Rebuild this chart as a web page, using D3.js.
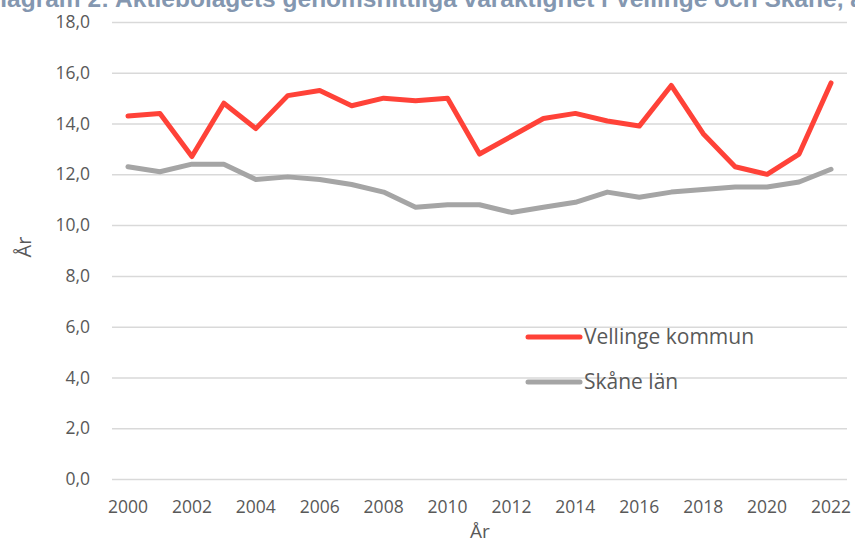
<!DOCTYPE html>
<html>
<head>
<meta charset="utf-8">
<script src="https://cdn.jsdelivr.net/npm/d3@7"></script>
<style>
  body { margin: 0; background: #fff; }
  svg { display: block; }
</style>
</head>
<body>
<div id="chart"></div>
<script>
const years = d3.range(2000, 2023);
const vellinge = [14.3, 14.4, 12.7, 14.8, 13.8, 15.1, 15.3, 14.7, 15.0, 14.9, 15.0, 12.8, 13.5, 14.2, 14.4, 14.1, 13.9, 15.5, 13.6, 12.3, 12.0, 12.8, 15.6];
const skane = [12.3, 12.1, 12.4, 12.4, 11.8, 11.9, 11.8, 11.6, 11.3, 10.7, 10.8, 10.8, 10.5, 10.7, 10.9, 11.3, 11.1, 11.3, 11.4, 11.5, 11.5, 11.7, 12.2];
const yTicks = [0, 2, 4, 6, 8, 10, 12, 14, 16, 18];
const xTickYears = d3.range(2000, 2023, 2);
const seriesNames = ["Vellinge kommun", "Skåne län"];
const seriesColors = ["#ff4238", "#a5a5a5"];
const titleText = "Diagram 2: Aktiebolagets genomsnittliga varaktighet i Vellinge och Skåne, år";

const width = 855, height = 543;
const plotLeft = 112, plotRight = 847, plotTop = 22, plotBottom = 479;
const font = "'Open Sans', sans-serif";

const svg = d3.select('#chart').append('svg')
    .attr('width', width)
    .attr('height', height);

const x = d3.scaleBand().domain(years).range([plotLeft, plotRight]);
const y = d3.scaleLinear().domain([0, 18]).range([plotBottom, plotTop]);
const fmt = d => d3.format('.1f')(d).replace('.', ',');

// title, cut off at the top like the reference
svg.append('text')
    .attr('x', 428)
    .attr('y', 7)
    .attr('text-anchor', 'middle')
    .style('font-family', "'Liberation Sans', Arial, sans-serif")
    .style('font-weight', 'bold')
    .style('font-size', '24.5px')
    .style('fill', '#8497b0')
    .text(titleText);

// gridlines + y labels
const yAxis = d3.axisLeft(y).tickValues(yTicks).tickSize(-(plotRight - plotLeft)).tickFormat(fmt).tickPadding(22);
const gy = svg.append('g').attr('transform', `translate(${plotLeft},0)`).call(yAxis);
gy.select('.domain').remove();
gy.selectAll('.tick line').attr('stroke', '#d9d9d9').attr('stroke-width', 1.5);
gy.selectAll('.tick text')
    .style('font-family', font)
    .style('font-size', '17.5px')
    .style('fill', '#595959');

// x labels
const xAxis = d3.axisBottom(x).tickValues(xTickYears).tickSize(0).tickPadding(22);
const gx = svg.append('g').attr('transform', `translate(0,${plotBottom})`).call(xAxis);
gx.select('.domain').remove();
gx.selectAll('.tick text')
    .style('font-family', font)
    .style('font-size', '17.5px')
    .style('fill', '#595959');

// axis titles
svg.append('text')
    .attr('x', 480)
    .attr('y', 538)
    .attr('text-anchor', 'middle')
    .style('font-family', font)
    .style('font-size', '19px')
    .style('fill', '#595959')
    .text('År');

svg.append('text')
    .attr('transform', 'translate(31,247) rotate(-90)')
    .attr('text-anchor', 'middle')
    .style('font-family', font)
    .style('font-size', '20px')
    .style('fill', '#595959')
    .text('År');

// lines
const line = d3.line()
    .x((d, i) => x(years[i]) + x.bandwidth() / 2)
    .y(d => y(d));

[vellinge, skane].forEach((s, i) => {
    svg.append('path')
        .datum(s)
        .attr('d', line)
        .attr('fill', 'none')
        .attr('stroke', seriesColors[i])
        .attr('stroke-width', 5)
        .attr('stroke-linejoin', 'round')
        .attr('stroke-linecap', 'round');
});

// legend
const legend = svg.append('g').attr('transform', 'translate(528,337)');
seriesNames.forEach((name, i) => {
    const g = legend.append('g').attr('transform', `translate(0,${i * 45})`);
    g.append('line')
        .attr('x1', 0).attr('x2', 52)
        .attr('stroke', seriesColors[i])
        .attr('stroke-width', 5)
        .attr('stroke-linecap', 'round');
    g.append('text')
        .attr('x', 56)
        .attr('dy', '0.35em')
        .style('font-family', font)
        .style('font-size', '21px')
        .style('fill', '#595959')
        .text(name);
});
</script>
</body>
</html>
